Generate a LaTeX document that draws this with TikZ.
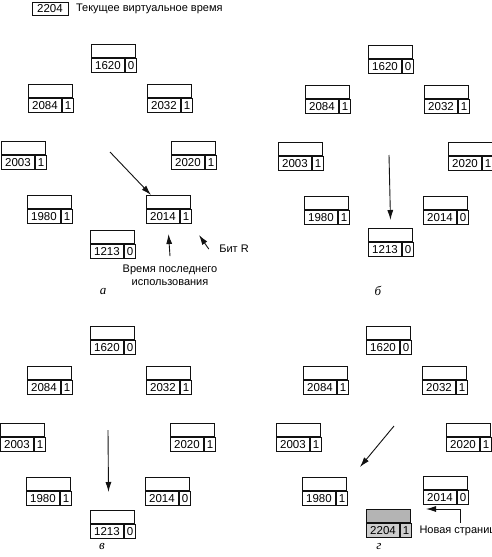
\documentclass[tikz,border=0pt]{standalone}
\usepackage{fontspec}
\setmainfont{Liberation Sans}
\newfontfamily\panelfont{Liberation Serif}
\usepackage{tikz}
\usetikzlibrary{arrows.meta,positioning}
\definecolor{CardLine}{HTML}{111111}
\definecolor{NewTop}{HTML}{B4B4B4}
\definecolor{NewCell}{HTML}{CDCDCD}

% one page of the clock: empty upper field, time of last use, R bit
\newcommand{\pagecard}[4]{%
  \node[cardtop, anchor=north west] (#1t) at (#2) {};
  \node[cardnum, anchor=north west] (#1n) at (#1t.south west) {#3};
  \node[cardbit, anchor=north west] (#1b) at (#1n.north east) {#4};
}

\begin{document}
\begin{tikzpicture}[x=1pt,y=-1pt,>=Latex,
    every node/.style={font=\fontsize{11}{13}\selectfont},
    cardtop/.style={draw=CardLine, line width=1pt, fill=white, minimum width=44pt, minimum height=13pt, inner sep=0pt},
    cardnum/.style={draw=CardLine, line width=1pt, fill=white, minimum width=33pt, minimum height=14pt, inner sep=0pt, font=\fontsize{11.5}{13}\selectfont},
    cardbit/.style={draw=CardLine, line width=1pt, fill=white, minimum width=11pt, minimum height=14pt, inner sep=0pt, font=\fontsize{11.5}{13}\selectfont},
    ptr/.style={-{Latex[length=10pt,width=6pt]}, line width=0.9pt, CardLine},
    panel/.style={font=\panelfont\itshape\fontsize{13}{15}\selectfont}]
    \useasboundingbox[fill=white] (0,0) rectangle (492,557);

    \node[draw=CardLine, line width=1pt, minimum width=36pt, minimum height=13pt, inner sep=0pt, font=\fontsize{11.5}{13}\selectfont] (curtime) at (50,8.5) {2204};
    \node[right=4pt of curtime] (curlab) {Текущее виртуальное время};

    \foreach \p/\dx/\dy in {a/0/0,b/277/1,c/-1/282,d/275/282} {
        \begin{scope}[shift={(\dx,\dy)}]
            \foreach \val/\bit/\x/\y in {1620/0/91/44,2084/1/28/84,2032/1/147/84,2003/1/1/141,2020/1/171/141,1980/1/27/195} {
                \pagecard{\p\val}{\x,\y}{\val}{\bit}
            }
        \end{scope}
    }

    \pagecard{a2014}{146,195}{2014}{1}
    \pagecard{b2014}{423,196}{2014}{0}
    \pagecard{c2014}{145,477}{2014}{0}
    \pagecard{d2014}{423,476}{2014}{0}
    \pagecard{a1213}{90,230}{1213}{0}
    \pagecard{b1213}{368,228}{1213}{0}
    \pagecard{c1213}{90,510}{1213}{0}

    \node[cardtop, fill=NewTop, anchor=north west] (d2204t) at (366,509) {};
    \node[cardnum, fill=NewCell, anchor=north west] (d2204n) at (d2204t.south west) {2204};
    \node[cardbit, fill=NewCell, anchor=north west] (d2204b) at (d2204n.north east) {1};

    \coordinate (aHand) at (110,152);
    \coordinate (bHand) at (389,155);
    \coordinate (cHand) at (108,430);
    \coordinate (dHand) at (394,426);
    \draw[ptr] (aHand) -- ([xshift=5pt]a2014t.north west);
    \draw[ptr] (bHand) -- ([yshift=8pt]b1213t.north);
    \draw[ptr] (cHand) -- ([xshift=-4pt,yshift=18pt]c1213t.north);
    \draw[ptr] (dHand) -- ([xshift=-6pt,yshift=42pt]d2204t.north west);

    \node (bitlab) at (234,249) {Бит R};
    \draw[ptr] ([xshift=-7pt]bitlab.west) -- ([xshift=7pt,yshift=-11pt]a2014b.south east);
    \node[align=center] (timelab) at (170,275) {Время последнего\\использования};
    \draw[ptr] ([yshift=5pt]timelab.north) -- ([yshift=-25pt]a2014t.south);
    \node[anchor=west] (newlab) at (416,531) {Новая страница};
    \draw[ptr] (newlab.north) |- ([xshift=15pt]d2204t.north east);

    \node[panel] (alab) at (103,292) {а};
    \node[panel] (blab) at (378,291) {б};
    \node[panel] (clab) at (102,546) {в};
    \node[panel] (dlab) at (379,547) {г};
\end{tikzpicture}
\end{document}
